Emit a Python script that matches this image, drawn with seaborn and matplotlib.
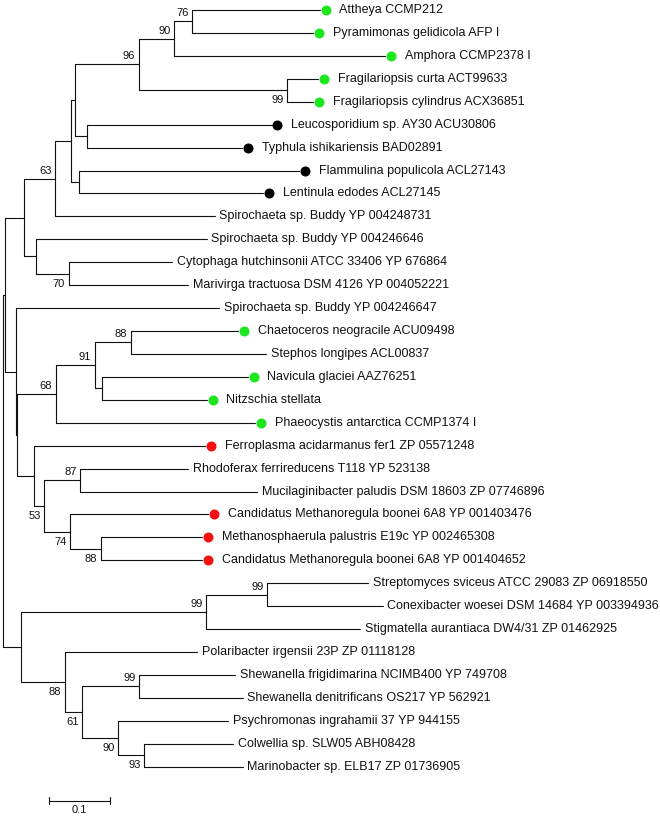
import matplotlib
matplotlib.use("Agg")
import matplotlib.pyplot as plt
import seaborn as sns
import pandas as pd

# ---- tree data (branch lengths as distance from the root, substitutions/site) ----
leaf_names = [
    "Attheya CCMP212", "Pyramimonas gelidicola AFP I", "Amphora CCMP2378 I",
    "Fragilariopsis curta ACT99633", "Fragilariopsis cylindrus ACX36851",
    "Leucosporidium sp. AY30 ACU30806", "Typhula ishikariensis BAD02891",
    "Flammulina populicola ACL27143", "Lentinula edodes ACL27145",
    "Spirochaeta sp. Buddy YP 004248731", "Spirochaeta sp. Buddy YP 004246646",
    "Cytophaga hutchinsonii ATCC 33406 YP 676864", "Marivirga tractuosa DSM 4126 YP 004052221",
    "Spirochaeta sp. Buddy YP 004246647", "Chaetoceros neogracile ACU09498",
    "Stephos longipes ACL00837", "Navicula glaciei AAZ76251", "Nitzschia stellata",
    "Phaeocystis antarctica CCMP1374 I", "Ferroplasma acidarmanus fer1 ZP 05571248",
    "Rhodoferax ferrireducens T118 YP 523138", "Mucilaginibacter paludis DSM 18603 ZP 07746896",
    "Candidatus Methanoregula boonei 6A8 YP 001403476", "Methanosphaerula palustris E19c YP 002465308",
    "Candidatus Methanoregula boonei 6A8 YP 001404652", "Streptomyces sviceus ATCC 29083 ZP 06918550",
    "Conexibacter woesei DSM 14684 YP 003394936", "Stigmatella aurantiaca DW4/31 ZP 01462925",
    "Polaribacter irgensii 23P ZP 01118128", "Shewanella frigidimarina NCIMB400 YP 749708",
    "Shewanella denitrificans OS217 YP 562921", "Psychromonas ingrahamii 37 YP 944155",
    "Colwellia sp. SLW05 ABH08428", "Marinobacter sp. ELB17 ZP 01736905",
]
leaf_parent = [
    "n76", "n76", "n90", "n99a", "n99a", "nA", "nA", "nC", "nC", "n63", "nF",
    "n70", "n70", "nH", "n88a", "n88a", "nK", "nK", "n68", "nJ", "n87", "n87",
    "n74", "n88b", "n88b", "n99c", "n99c", "n99b", "n88c", "n99d", "n99d",
    "n90b", "n93", "n93",
]
leaf_depth = [
    0.520, 0.509, 0.627, 0.517, 0.509, 0.441, 0.393, 0.486, 0.427, 0.348, 0.335,
    0.278, 0.304, 0.355, 0.386, 0.432, 0.402, 0.335, 0.414, 0.332, 0.304, 0.417,
    0.337, 0.327, 0.327, 0.599, 0.623, 0.586, 0.319, 0.381, 0.394,
    0.370, 0.378, 0.394,
]
leaf_dot = [
    "green", "green", "green", "green", "green", "black", "black", "black", "black",
    None, None, None, None, None, "green", None, "green", "green", "green", "red",
    None, None, "red", "red", "red", None, None, None, None, None, None, None, None, None,
]

node_names = ["root", "nG", "nE", "n63", "nD", "nB", "n96", "n90", "n76", "n99a", "nA",
              "nC", "nF", "n70", "nH", "nI", "n68", "n91", "n88a", "nK", "nJ", "nL",
              "n87", "n74", "n88b", "nM", "n99b", "n99c", "n88c", "n61", "n99d",
              "n90b", "n93"]
node_parent = [None, "root", "nG", "nE", "n63", "nD", "nB", "n96", "n90", "n96", "nB",
               "nD", "nE", "nF", "nG", "nH", "nI", "n68", "n91", "n91", "nI", "nJ",
               "nL", "nL", "n74", "root", "nM", "n99b", "nM", "n88c", "n61",
               "n61", "n90b"]
node_depth = [0.0, 0.004, 0.035, 0.086, 0.112, 0.118, 0.223, 0.281, 0.311, 0.466, 0.138,
              0.125, 0.055, 0.108, 0.022, 0.024, 0.087, 0.151, 0.210, 0.162, 0.052, 0.068,
              0.127, 0.110, 0.161, 0.030, 0.333, 0.434, 0.102, 0.130, 0.224,
              0.189, 0.232]
node_support = ["", "", "", "63", "", "", "96", "90", "76", "99", "",
                "", "", "70", "", "", "68", "91", "88", "", "", "53",
                "87", "74", "88", "", "99", "99", "88", "61", "99",
                "90", "93"]

dot_colors = {"green": "#1ee61e", "red": "#f41010", "black": "#000000"}

sns.set_theme(style="white")
plt.rcParams["font.family"] = ["Liberation Sans", "DejaVu Sans"]

# ---- layout helpers ----
depth = dict(zip(node_names, node_depth))
kids = {n: [] for n in node_names}
for i, p in enumerate(leaf_parent):
    kids[p].append(("leaf", i))
for n, p in zip(node_names, node_parent):
    if p is not None:
        kids[p].append(("node", n))

ycache = {}
def ypos(kind, key):
    if kind == "leaf":
        return float(key)
    if key not in ycache:
        ys = [ypos(k, v) for k, v in kids[key]]
        ycache[key] = (min(ys) + max(ys)) / 2
    return ycache[key]

rows = []
seg = 0
for n, p in zip(node_names, node_parent):
    y = ypos("node", n)
    if p is not None:
        rows += [(seg, depth[p], y), (seg, depth[n], y)]
        seg += 1
    ys = [ypos(k, v) for k, v in kids[n]]
    rows += [(seg, depth[n], min(ys)), (seg, depth[n], max(ys))]
    seg += 1
for i, p in enumerate(leaf_parent):
    rows += [(seg, depth[p], i), (seg, leaf_depth[i], i)]
    seg += 1
seg_df = pd.DataFrame(rows, columns=["seg", "x", "y"])

fig = plt.figure(figsize=(6.6, 8.17), dpi=100)
ax = fig.add_axes([0, 0, 1, 1])

sns.lineplot(data=seg_df, x="x", y="y", units="seg", estimator=None, sort=False,
             color="#111111", linewidth=0.8, ax=ax, legend=False)

# tip dots
dot_df = pd.DataFrame({"x": leaf_depth, "y": range(len(leaf_names)), "c": leaf_dot}).dropna()
for c, sub in dot_df.groupby("c"):
    pts = ax.transData.transform(sub[["x", "y"]].values)
    pts[:, 0] += 9
    sub = sub.copy()
    sub[["x", "y"]] = ax.transData.inverted().transform(pts)
    sns.scatterplot(data=sub, x="x", y="y", color=dot_colors[c], s=52, linewidth=0,
                    marker="o", ax=ax, legend=False, zorder=3)

# leaf labels
for i, name in enumerate(leaf_names):
    off = 14.0 if leaf_dot[i] else 3.2
    ax.annotate(name, (leaf_depth[i], i), xytext=(off, 0), textcoords="offset points",
                ha="left", va="center", fontsize=9, color="#111111")

# bootstrap values
for n, p, s in zip(node_names, node_parent, node_support):
    if not s:
        continue
    y = ypos("node", n)
    above = y < ypos("node", p)
    ax.annotate(s, (depth[n], y), xytext=(-2.5, 5.8 if above else -7.2),
                textcoords="offset points", ha="right", va="center",
                fontsize=8, color="#111111")

# scale bar
bar_x0, bar_len, bar_y = 0.076, 0.1, 34.48
ax.plot([bar_x0, bar_x0 + bar_len], [bar_y, bar_y], color="#111111", lw=0.8)
for xx in (bar_x0, bar_x0 + bar_len):
    ax.plot([xx, xx], [bar_y - 0.15, bar_y + 0.15], color="#111111", lw=0.8)
ax.text(bar_x0 + bar_len / 2, bar_y + 0.42, "0.1", ha="center", va="center",
        fontsize=8, color="#111111")

ax.set_xlim(-2.7 / 610, (660 - 2.7) / 610)
ax.set_ylim((817 - 10) / 22.93, -10 / 22.93)
ax.axis("off")

fig.savefig("out.png", dpi=100)
